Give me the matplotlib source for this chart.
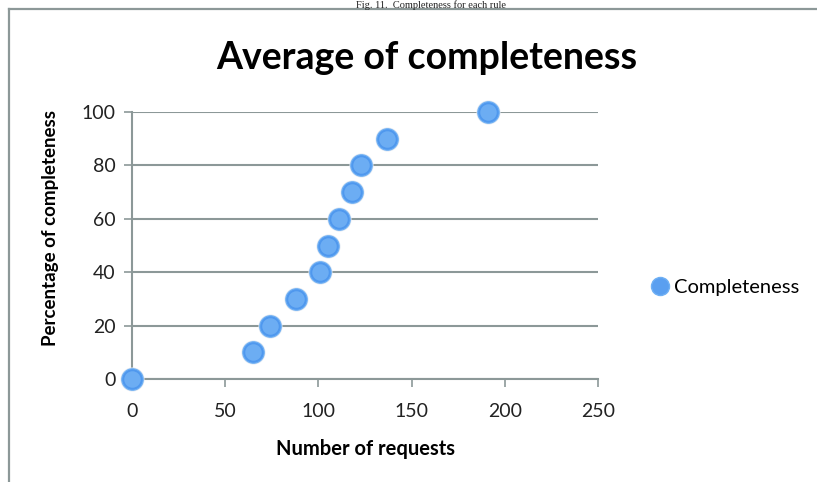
import matplotlib
matplotlib.use("Agg")
import matplotlib.pyplot as plt
from matplotlib.lines import Line2D

# values
requests = [0, 65, 74, 88, 101, 105, 111, 118, 123, 137, 191]
completeness = [0, 10, 20, 30, 40, 50, 60, 70, 80, 90, 100]
x_ticks = [0, 50, 100, 150, 200, 250]
y_ticks = [0, 20, 40, 60, 80, 100]

W, H = 817, 482
grid_col = '#8c9898'
sans = ['Lato', 'DejaVu Sans']

fig = plt.figure(figsize=(W / 100, H / 100), dpi=100)
fig.patch.set_facecolor('white')

# page frame and the caption above it
fig.add_artist(Line2D([9 / W, 9 / W], [0, 1 - 9 / H], color=grid_col, lw=1.6))
fig.add_artist(Line2D([9 / W, 1], [1 - 9 / H, 1 - 9 / H], color=grid_col, lw=1.6))
fig.text(431 / W, 1 - 0.5 / H, 'Fig. 11.  Completeness for each rule', family='Liberation Serif',
         fontsize=7.5, ha='center', va='top', color='#222222')

ax = fig.add_axes([132 / W, 1 - 379 / H, (598 - 132) / W, (379 - 112) / H])
ax.set_xlim(0, 250)
ax.set_ylim(0, 100)
ax.set_xticks(x_ticks)
ax.set_yticks(y_ticks)

for side in ['top', 'right']:
    ax.spines[side].set_visible(False)
for side in ['left', 'bottom']:
    ax.spines[side].set_color(grid_col)
    ax.spines[side].set_linewidth(1.5)
ax.grid(axis='y', color=grid_col, lw=1.5)
ax.set_axisbelow(True)
ax.tick_params(axis='both', direction='out', length=6, width=1.2, color=grid_col,
               labelsize=14, labelcolor='#222222', pad=6)
ax.tick_params(axis='x', pad=11)
for lab in ax.get_xticklabels() + ax.get_yticklabels():
    lab.set_family(sans)

# soft shadow, body and highlight of the glossy markers
ax.scatter(requests, completeness, s=300, color='#e2e9f2', zorder=3, clip_on=False, lw=0)
ax.scatter(requests, completeness, s=240, color='#4f98ee', edgecolor='#6fb0f4', lw=0.8,
           zorder=4, clip_on=False)
ax.scatter(requests, completeness, s=140, color='#80bcf7', lw=0, zorder=5, clip_on=False, alpha=0.6)

ax.set_xlabel('Number of requests', family=sans, fontsize=14.5, fontweight='bold', labelpad=14)
ax.set_ylabel('Percentage of completeness', family=sans, fontsize=13.5, fontweight='bold')
ax.yaxis.set_label_coords(-0.157, 0.566)
fig.text(427 / W, 1 - 58 / H, 'Average of completeness', family=sans, fontsize=27,
         fontweight='bold', ha='center', va='center')

handle = Line2D([], [], ls='none', marker='o', markersize=13, markerfacecolor='#5a9ff0',
                markeredgecolor='#6fb0f4')
fig.legend([handle], ['Completeness'], loc='center left', bbox_to_anchor=(630 / W, 1 - 287 / H),
           frameon=False, handletextpad=0.1, handlelength=1.2, prop={'family': sans, 'size': 14.5})

fig.savefig('out.png', dpi=100, facecolor='white')
